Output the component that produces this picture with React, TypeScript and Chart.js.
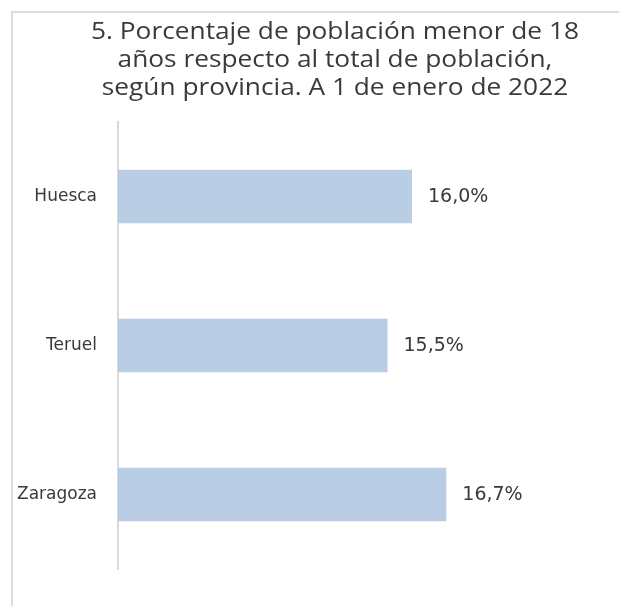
import React, { useEffect, useRef } from "react";
import { Chart, registerables } from "chart.js";

Chart.register(...registerables);

const categories = ["Huesca", "Teruel", "Zaragoza"];
const values = [16.0, 15.5, 16.7];
const valueLabels = ["16,0%", "15,5%", "16,7%"];
const titleLines = [
  "5. Porcentaje de población menor de 18",
  "años respecto al total de población,",
  "según provincia. A 1 de enero de 2022",
];

const TITLE_FONT = "'Open Sans', 'DejaVu Sans', sans-serif";
const LABEL_FONT = "'DejaVu Sans', 'Open Sans', sans-serif";
const TEXT = "#3a3a3a";

const titlePlugin = {
  id: "customTitle",
  afterDraw(chart: any) {
    const ctx = chart.ctx;
    ctx.save();
    ctx.font = `24px ${TITLE_FONT}`;
    ctx.fillStyle = TEXT;
    ctx.textAlign = "center";
    ctx.textBaseline = "alphabetic";
    const sx = 1.095;
    const cx = 335;
    const baselines = [39, 67, 95];
    titleLines.forEach((line, i) => {
      ctx.save();
      ctx.translate(cx, baselines[i]);
      ctx.scale(sx, 1);
      ctx.fillText(line, 0, 0);
      ctx.restore();
    });
    ctx.restore();
  },
};

const valueLabelPlugin = {
  id: "valueLabels",
  afterDatasetsDraw(chart: any) {
    const ctx = chart.ctx;
    const meta = chart.getDatasetMeta(0);
    ctx.save();
    ctx.font = `19px ${LABEL_FONT}`;
    ctx.fillStyle = TEXT;
    ctx.textAlign = "left";
    ctx.textBaseline = "middle";
    meta.data.forEach((bar: any, i: number) => {
      ctx.fillText(valueLabels[i], bar.x + 16, bar.y + 1);
    });
    ctx.restore();
  },
};

export default function App() {
  const ref = useRef<HTMLCanvasElement | null>(null);
  useEffect(() => {
    if (!ref.current) return;
    const chart = new Chart(ref.current, {
      type: "bar",
      data: {
        labels: categories,
        datasets: [
          {
            data: values,
            backgroundColor: "#b9cde5",
            borderWidth: 0,
            categoryPercentage: 1,
            barPercentage: 0.36,
          },
        ],
      },
      options: {
        indexAxis: "y",
        animation: false,
        responsive: true,
        maintainAspectRatio: false,
        layout: { padding: { left: 0, right: 109, top: 122, bottom: 37 } },
        plugins: {
          legend: { display: false },
          tooltip: { enabled: false },
          title: { display: false },
        },
        scales: {
          x: {
            display: false,
            min: 10,
            max: 18,
          },
          y: {
            afterFit: (scale: any) => {
              scale.width = 118;
            },
            grid: { display: false, drawTicks: false },
            border: { display: true, color: "#d9d9d9", width: 2 },
            ticks: {
              color: TEXT,
              font: { family: LABEL_FONT, size: 17 },
              padding: 21,
            },
          },
        },
      },
      plugins: [valueLabelPlugin, titlePlugin],
    });
    return () => chart.destroy();
  }, []);

  return (
    <div
      style={{
        position: "fixed",
        left: 0,
        top: 0,
        width: 619,
        height: 606,
        overflow: "hidden",
        background: "#fff",
      }}
    >
      <div
        style={{
          position: "absolute",
          left: 11,
          top: 11,
          width: 700,
          height: 700,
          borderLeft: "2px solid #dcdcdc",
          borderTop: "2px solid #dcdcdc",
        }}
      />
      <div style={{ position: "absolute", left: 0, top: 0, width: 619, height: 606 }}>
        <canvas ref={ref} />
      </div>
    </div>
  );
}
